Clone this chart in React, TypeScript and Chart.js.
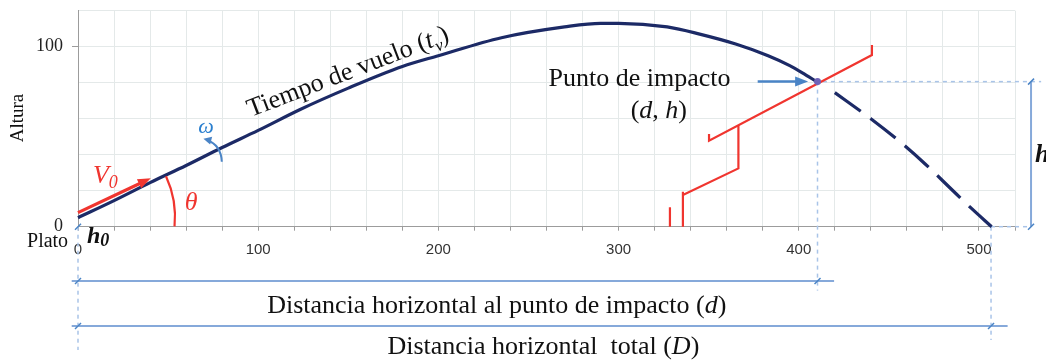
import React, { useEffect, useRef } from 'react';
import { Chart, registerables } from 'chart.js';

Chart.register(...registerables);

// ---- data (x = horizontal distance, y = height) ----
const xLabelValues = [0, 100, 200, 300, 400, 500];
const yLabelValues = [0, 100];

const flightX = [0, 20, 40, 60, 80, 100, 123, 150, 180, 200, 235, 270, 290, 300, 327, 345, 365, 383, 395, 402, 410];
const flightY = [5, 14.5, 24.5, 34, 44, 53.5, 65, 77, 89, 95, 105, 111, 113, 113, 111, 107, 101.5, 95, 89.5, 85.5, 80.5];

const fallX = [420, 440, 457, 470, 484, 496, 507];
const fallY = [74.5, 60, 46.5, 35, 21.5, 10, 0];

const wallAX = [328.5, 328.5];
const wallAY = [0, 10.8];
const wallBX = [335.7, 335.7, 335.7, 366.5, 366.5];
const wallBY = [0, 19.4, 17.6, 32.4, 56.4];
const wallCX = [350.2, 350.2, 440.6, 440.6];
const wallCY = [51.5, 47.8, 95.4, 101];

const impactX = [410.4];
const impactY = [80.6];
const landingX = [506.7];
const rightEdgeX = [528.9];
const dimLineY = [-30.2];
const totalLineY = [-55.2];
const launchY = [5.4];

const SERIF = '"Liberation Serif", "Times New Roman", serif';
const SANS = '"Liberation Sans", Arial, sans-serif';
const NAVY = '#1c2a66';
const RED = '#f0352f';
const BLUE = '#4a84c6';
const BLUE_LINE = '#86a9da';
const BLUE_DASH = '#a9c4e8';

const pts = (xs: number[], ys: number[]) => xs.map((x, i) => ({ x, y: ys[i] }));

type Seg = { t: string; font: string; dy?: number };

function drawRich(ctx: CanvasRenderingContext2D, segs: Seg[], x: number, y: number, color: string, rot = 0) {
  ctx.save();
  ctx.translate(x, y);
  ctx.rotate(rot);
  ctx.fillStyle = color;
  ctx.textAlign = 'left';
  ctx.textBaseline = 'alphabetic';
  let cx = 0;
  for (const s of segs) {
    ctx.font = s.font;
    ctx.fillText(s.t, cx, s.dy || 0);
    cx += ctx.measureText(s.t).width;
  }
  ctx.restore();
}

function arrowHead(ctx: CanvasRenderingContext2D, fx: number, fy: number, tx: number, ty: number, len: number, wid: number, color: string) {
  const a = Math.atan2(ty - fy, tx - fx);
  ctx.save();
  ctx.fillStyle = color;
  ctx.beginPath();
  ctx.moveTo(tx, ty);
  ctx.lineTo(tx - len * Math.cos(a) + (wid / 2) * Math.sin(a), ty - len * Math.sin(a) - (wid / 2) * Math.cos(a));
  ctx.lineTo(tx - len * Math.cos(a) - (wid / 2) * Math.sin(a), ty - len * Math.sin(a) + (wid / 2) * Math.cos(a));
  ctx.closePath();
  ctx.fill();
  ctx.restore();
}

function arrow(ctx: CanvasRenderingContext2D, fx: number, fy: number, tx: number, ty: number, w: number, len: number, wid: number, color: string) {
  const a = Math.atan2(ty - fy, tx - fx);
  ctx.save();
  ctx.strokeStyle = color;
  ctx.lineWidth = w;
  ctx.beginPath();
  ctx.moveTo(fx, fy);
  ctx.lineTo(tx - (len - 2) * Math.cos(a), ty - (len - 2) * Math.sin(a));
  ctx.stroke();
  ctx.restore();
  arrowHead(ctx, fx, fy, tx, ty, len, wid, color);
}

function slash(ctx: CanvasRenderingContext2D, px: number, py: number) {
  ctx.save();
  ctx.strokeStyle = BLUE;
  ctx.lineWidth = 1.5;
  ctx.beginPath();
  ctx.moveTo(px - 3, py + 3);
  ctx.lineTo(px + 3, py - 3);
  ctx.stroke();
  ctx.restore();
}

const annotations = {
  id: 'annotations',
  afterDatasetsDraw(chart: any) {
    const ctx: CanvasRenderingContext2D = chart.ctx;
    const xs = chart.scales.x;
    const ys = chart.scales.y;
    const X = (v: number) => xs.getPixelForValue(v);
    const Y = (v: number) => ys.getPixelForValue(v);
    ctx.save();

    // theta arc
    ctx.strokeStyle = RED;
    ctx.lineWidth = 2.2;
    ctx.beginPath();
    ctx.arc(X(0), Y(launchY[0]), 97, -0.434, 0.098);
    ctx.stroke();

    // V0 arrow
    arrow(ctx, X(0), Y(7.8), X(40.4), Y(26.9), 3.2, 13, 10, RED);

    // omega rotation arrow
    ctx.strokeStyle = BLUE;
    ctx.lineWidth = 2;
    ctx.beginPath();
    ctx.moveTo(X(79.8), Y(36.1));
    ctx.quadraticCurveTo(X(79.4), Y(45.4), X(71.5), Y(48.2));
    ctx.stroke();
    arrowHead(ctx, X(75), Y(47.5), X(69.6), Y(48.9), 8, 8, BLUE);

    // arrow to impact point
    arrow(ctx, X(377.2), Y(impactY[0]), X(405.2), Y(impactY[0]), 2.5, 13, 10, BLUE);

    // dimension slashes
    slash(ctx, X(0), Y(0));
    slash(ctx, X(0), Y(dimLineY[0]));
    slash(ctx, X(impactX[0]), Y(dimLineY[0]));
    slash(ctx, X(0), Y(totalLineY[0]));
    slash(ctx, X(landingX[0]), Y(totalLineY[0]));
    slash(ctx, X(rightEdgeX[0]), Y(impactY[0]));
    slash(ctx, X(rightEdgeX[0]), Y(0));

    // texts
    const f = (s: number, style = '') => `${style} ${s}px ${SERIF}`.trim();
    drawRich(ctx, [
      { t: 'Tiempo de vuelo (', font: f(26) },
      { t: 't', font: f(26, 'italic') },
      { t: 'v', font: f(17, 'italic'), dy: 6 },
      { t: ')', font: f(26) },
    ], X(95.9), Y(60.9), '#111', -21 * Math.PI / 180);

    drawRich(ctx, [{ t: 'Punto de impacto', font: f(26) }], X(261.1), Y(78.2), '#111');
    drawRich(ctx, [
      { t: '(', font: f(26) },
      { t: 'd', font: f(26, 'italic') },
      { t: ', ', font: f(26) },
      { t: 'h', font: f(26, 'italic') },
      { t: ')', font: f(26) },
    ], X(306.7), Y(60.2), '#111');

    drawRich(ctx, [
      { t: 'V', font: f(26, 'italic') },
      { t: '0', font: f(18, 'italic'), dy: 5 },
    ], X(8.3), Y(24.3), RED);
    drawRich(ctx, [{ t: 'θ', font: f(26, 'italic') }], X(59.3), Y(9.3), RED);

    drawRich(ctx, [
      { t: 'h', font: f(24, 'italic bold') },
      { t: '0', font: f(18, 'italic bold'), dy: 3 },
    ], X(5), Y(-9.2), '#111');

    drawRich(ctx, [{ t: 'Plato', font: f(20) }], X(-28.3), Y(-11.1), '#111');

    drawRich(ctx, [
      { t: 'Distancia horizontal al punto de impacto (', font: f(26) },
      { t: 'd', font: f(26, 'italic') },
      { t: ')', font: f(26) },
    ], X(105), Y(-47.8), '#111');
    drawRich(ctx, [
      { t: 'Distancia horizontal  total (', font: f(26) },
      { t: 'D', font: f(26, 'italic') },
      { t: ')', font: f(26) },
    ], X(171.7), Y(-70.7), '#111');

    drawRich(ctx, [{ t: 'h', font: f(26, 'italic bold') }], X(531.1), Y(35.9), '#111');

    ctx.fillStyle = '#2a7fcf';
    ctx.font = f(22, 'italic');
    ctx.textAlign = 'center';
    ctx.textBaseline = 'middle';
    ctx.fillText('ω', X(71.1), Y(55.4));

    ctx.save();
    ctx.translate(X(-33.3), Y(60.4));
    ctx.rotate(-Math.PI / 2);
    ctx.fillStyle = '#111';
    ctx.font = f(19);
    ctx.textAlign = 'center';
    ctx.textBaseline = 'middle';
    ctx.fillText('Altura', 0, 0);
    ctx.restore();

    ctx.restore();
  },
};

const noPad = (s: any) => {
  s.paddingTop = 0;
  s.paddingBottom = 0;
  s.paddingLeft = 0;
  s.paddingRight = 0;
};

export default function App() {
  const ref = useRef<HTMLCanvasElement | null>(null);

  useEffect(() => {
    if (!ref.current) return;
    const line = (data: any[], color: string, width: number, extra: any = {}) => ({
      data,
      showLine: true,
      borderColor: color,
      borderWidth: width,
      pointRadius: 0,
      fill: false,
      clip: false,
      ...extra,
    });
    const chart = new Chart(ref.current, {
      type: 'scatter',
      data: {
        datasets: [
          {
            data: pts(impactX, impactY),
            showLine: false,
            pointRadius: 3.5,
            pointBackgroundColor: '#7064b8',
            pointBorderWidth: 0,
            clip: false,
          } as any,
          line(pts(flightX, flightY), NAVY, 3.2, { cubicInterpolationMode: 'monotone' }),
          line(pts(fallX, fallY), NAVY, 3.2, { cubicInterpolationMode: 'monotone', borderDash: [32, 12] }),
          line(pts(wallAX, wallAY), RED, 2.2),
          line(pts(wallBX, wallBY), RED, 2.2),
          line(pts(wallCX, wallCY), RED, 2.2),
          // dashed guides
          line(pts([impactX[0], impactX[0]], [impactY[0], -35.5]), BLUE_DASH, 1.5, { borderDash: [4, 4] }),
          line(pts([impactX[0] + 3, 534.5], [impactY[0], impactY[0]]), BLUE_DASH, 1.5, { borderDash: [4, 4] }),
          line(pts([0, 0], [0, -68.5]), BLUE_DASH, 1.5, { borderDash: [4, 4] }),
          line(pts([landingX[0], landingX[0]], [0, -63]), BLUE_DASH, 1.5, { borderDash: [4, 4] }),
          line(pts([landingX[0], rightEdgeX[0]], [0, 0]), BLUE_DASH, 1.5, { borderDash: [4, 4] }),
          // dimension lines
          line(pts([-3.5, 419.6], [dimLineY[0], dimLineY[0]]), BLUE_LINE, 2),
          line(pts([-3.5, 515.9], [totalLineY[0], totalLineY[0]]), BLUE_LINE, 2),
          line(pts([rightEdgeX[0], rightEdgeX[0]], [0, impactY[0]]), BLUE_LINE, 2),
        ],
      },
      options: {
        animation: false,
        responsive: true,
        maintainAspectRatio: false,
        devicePixelRatio: 1,
        layout: { padding: { top: 10.7, right: 31, bottom: 0, left: 0 } },
        plugins: { legend: { display: false }, tooltip: { enabled: false } },
        scales: {
          x: {
            type: 'linear',
            min: 0,
            max: 520,
            afterFit: (s: any) => { s.height = 133.3; noPad(s); },
            border: { color: '#9c9c9c', width: 1 },
            grid: { color: '#e4e9e9', lineWidth: 1, tickLength: 4, tickColor: '#9c9c9c' },
            ticks: {
              stepSize: 20,
              autoSkip: false,
              maxRotation: 0,
              padding: 10,
              color: '#333',
              font: { family: SANS, size: 15 },
              callback: (v: any) => (xLabelValues.includes(Number(v)) ? String(v) : ''),
            },
          },
          y: {
            type: 'linear',
            min: 0,
            max: 120,
            afterFit: (s: any) => { s.width = 78; noPad(s); },
            border: { color: '#9c9c9c', width: 1 },
            grid: {
              color: '#e4e9e9',
              lineWidth: 1,
              tickLength: 6,
              tickColor: (c: any) => (c.tick && c.tick.value === 100 ? '#9c9c9c' : 'rgba(0,0,0,0)'),
            },
            ticks: {
              stepSize: 20,
              autoSkip: false,
              padding: 9,
              color: '#222',
              font: { family: SERIF, size: 18 },
              callback: (v: any) => (yLabelValues.includes(Number(v)) ? String(v) : ''),
            },
          },
        },
      } as any,
      plugins: [annotations],
    });
    return () => chart.destroy();
  }, []);

  return (
    <div style={{ position: 'absolute', left: 0, top: 0, width: 1046, height: 360, background: '#fff' }}>
      <canvas ref={ref} />
    </div>
  );
}
